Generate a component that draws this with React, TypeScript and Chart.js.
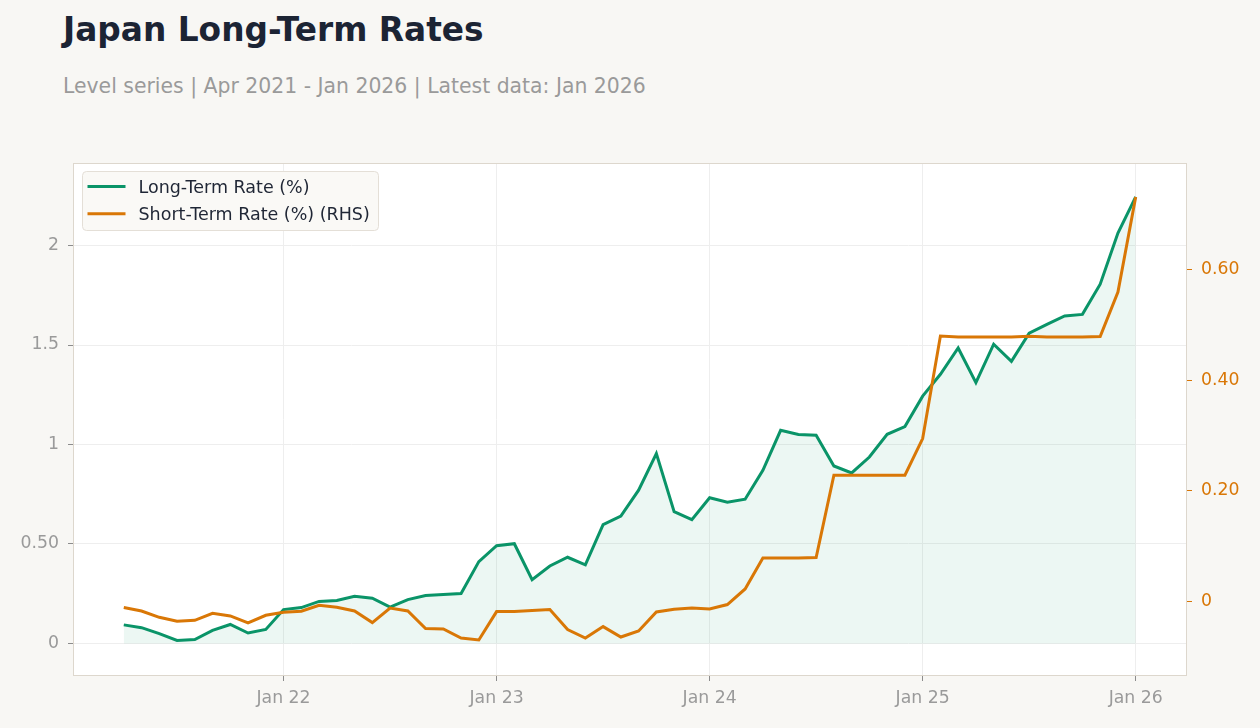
import React, { useEffect, useRef } from "react";
import { Chart, registerables } from "chart.js";

Chart.register(...registerables);

const FONT = "'DejaVu Sans', 'Liberation Sans', sans-serif";

const months = [
  "Apr 2021", "May 2021", "Jun 2021", "Jul 2021", "Aug 2021", "Sep 2021", "Oct 2021", "Nov 2021", "Dec 2021",
  "Jan 2022", "Feb 2022", "Mar 2022", "Apr 2022", "May 2022", "Jun 2022", "Jul 2022", "Aug 2022", "Sep 2022",
  "Oct 2022", "Nov 2022", "Dec 2022",
  "Jan 2023", "Feb 2023", "Mar 2023", "Apr 2023", "May 2023", "Jun 2023", "Jul 2023", "Aug 2023", "Sep 2023",
  "Oct 2023", "Nov 2023", "Dec 2023",
  "Jan 2024", "Feb 2024", "Mar 2024", "Apr 2024", "May 2024", "Jun 2024", "Jul 2024", "Aug 2024", "Sep 2024",
  "Oct 2024", "Nov 2024", "Dec 2024",
  "Jan 2025", "Feb 2025", "Mar 2025", "Apr 2025", "May 2025", "Jun 2025", "Jul 2025", "Aug 2025", "Sep 2025",
  "Oct 2025", "Nov 2025", "Dec 2025",
  "Jan 2026",
];

const longTermRate = [
  0.093, 0.079, 0.049, 0.015, 0.019, 0.065, 0.095, 0.052, 0.070,
  0.170, 0.180, 0.211, 0.216, 0.237, 0.227, 0.182, 0.220, 0.241, 0.246, 0.251, 0.411,
  0.491, 0.501, 0.320, 0.389, 0.433, 0.395, 0.597, 0.640, 0.770, 0.954, 0.662, 0.622,
  0.732, 0.710, 0.725, 0.870, 1.071, 1.050, 1.046, 0.892, 0.857, 0.937, 1.051, 1.090,
  1.243, 1.353, 1.485, 1.311, 1.504, 1.418, 1.559, 1.604, 1.646, 1.654, 1.806, 2.063,
  2.245,
];

const shortTermRate = [
  -0.0108, -0.0170, -0.0284, -0.0356, -0.0338, -0.0211, -0.0260, -0.0387, -0.0248,
  -0.0193, -0.0175, -0.0067, -0.0103, -0.0170, -0.0380, -0.0116, -0.0170, -0.0488, -0.0495, -0.0658, -0.0694,
  -0.0181, -0.0181, -0.0163, -0.0145, -0.0506, -0.0658, -0.0452, -0.0640, -0.0531, -0.0188, -0.0139, -0.0116,
  -0.0134, -0.0054, 0.0228, 0.0788, 0.0788, 0.0788, 0.0795, 0.2283, 0.2283, 0.2283, 0.2283, 0.2283,
  0.2946, 0.4800, 0.4782, 0.4782, 0.4782, 0.4782, 0.4795, 0.4782, 0.4782, 0.4782, 0.4790, 0.5595,
  0.7312,
];

const xTickPositions = [9, 21, 33, 45, 57];
const xTickLabels = ["Jan 22", "Jan 23", "Jan 24", "Jan 25", "Jan 26"];
const leftTickValues = [0, 0.5, 1, 1.5, 2];
const leftTickLabels = ["0", "0.50", "1", "1.5", "2"];
const rightTickValues = [0, 0.2, 0.4, 0.6];
const rightTickLabels = ["0", "0.20", "0.40", "0.60"];

const seriesNames = ["Long-Term Rate (%)", "Short-Term Rate (%) (RHS)"];

const GREEN = "#0a9468";
const ORANGE = "#d97706";
const PAGE_BG = "#f8f7f4";
const TICK_SIZE = 17.3;
const LEGEND_SIZE = 17.5;

const plotDecor = {
  id: "plotDecor",
  beforeDraw(chart: any) {
    const { ctx, chartArea: a } = chart;
    ctx.save();
    ctx.fillStyle = "#ffffff";
    ctx.fillRect(a.left, a.top, a.right - a.left, a.bottom - a.top);
    ctx.restore();
  },
  afterDraw(chart: any) {
    const { ctx, chartArea: a } = chart;
    ctx.save();
    // plot frame
    ctx.strokeStyle = "#ddd7cd";
    ctx.lineWidth = 1;
    ctx.strokeRect(a.left + 0.5, a.top + 0.5, a.right - a.left - 1, a.bottom - a.top - 1);

    // legend box
    const bx = a.left + 9.5;
    const by = a.top + 8.5;
    const bw = 296;
    const bh = 59;
    ctx.beginPath();
    (ctx as any).roundRect(bx, by, bw, bh, 4);
    ctx.fillStyle = "rgba(250,249,246,0.95)";
    ctx.fill();
    ctx.strokeStyle = "#e4dfd7";
    ctx.stroke();

    const ds = chart.data.datasets;
    const rows = [0, 1];
    rows.forEach((r) => {
      const y = by + 15 + r * 27.3;
      ctx.beginPath();
      ctx.moveTo(bx + 5, y);
      ctx.lineTo(bx + 43, y);
      ctx.strokeStyle = ds[r].borderColor;
      ctx.lineWidth = 3;
      ctx.stroke();
      ctx.fillStyle = "#1f2635";
      ctx.font = `${LEGEND_SIZE}px ${FONT}`;
      ctx.textBaseline = "middle";
      ctx.textAlign = "left";
      ctx.fillText(ds[r].label, bx + 56, y + 1.5);
    });
    ctx.restore();
  },
};

export default function App() {
  const canvasRef = useRef<HTMLCanvasElement | null>(null);

  useEffect(() => {
    document.body.style.margin = "0";
    document.body.style.background = PAGE_BG;
    const canvas = canvasRef.current;
    if (!canvas) return;

    const chart = new Chart(canvas, {
      type: "line",
      data: {
        labels: months,
        datasets: [
          {
            label: seriesNames[0],
            data: longTermRate.map((v, i) => ({ x: i, y: v })),
            borderColor: GREEN,
            backgroundColor: "rgba(10,148,104,0.08)",
            borderWidth: 3,
            pointRadius: 0,
            tension: 0,
            fill: "origin",
            yAxisID: "y",
            order: 2,
          },
          {
            label: seriesNames[1],
            data: shortTermRate.map((v, i) => ({ x: i, y: v })),
            borderColor: ORANGE,
            backgroundColor: ORANGE,
            borderWidth: 3,
            pointRadius: 0,
            tension: 0,
            fill: false,
            yAxisID: "y1",
            order: 1,
          },
        ],
      },
      options: {
        animation: false,
        responsive: true,
        maintainAspectRatio: false,
        events: [],
        layout: { padding: { top: 163, left: 0, right: 0, bottom: 0 } },
        plugins: {
          legend: { display: false },
          tooltip: { enabled: false },
          title: { display: false },
        },
        scales: {
          x: {
            type: "linear",
            min: -2.86,
            max: 59.89,
            afterBuildTicks: (scale: any) => {
              scale.ticks = xTickPositions.map((v) => ({ value: v }));
            },
            afterFit: (scale: any) => {
              scale.height = 52;
            },
            ticks: {
              autoSkip: false,
              maxRotation: 0,
              padding: 7.5,
              color: "#9a9a9a",
              font: { family: FONT, size: TICK_SIZE },
              callback: (value: any) => {
                const idx = xTickPositions.indexOf(Number(value));
                return idx >= 0 ? xTickLabels[idx] : "";
              },
            },
            grid: {
              color: "#eeeeee",
              lineWidth: 1,
              tickLength: 5,
              tickColor: "#8c8c8c",
            },
            border: { display: false },
          },
          y: {
            type: "linear",
            position: "left",
            min: -0.164,
            max: 2.415,
            afterBuildTicks: (scale: any) => {
              scale.ticks = leftTickValues.map((v) => ({ value: v }));
            },
            afterFit: (scale: any) => {
              scale.width = 73;
            },
            ticks: {
              padding: 9,
              color: "#9a9a9a",
              font: { family: FONT, size: TICK_SIZE },
              callback: (value: any) => {
                const idx = leftTickValues.indexOf(Number(value));
                return idx >= 0 ? leftTickLabels[idx] : "";
              },
            },
            grid: {
              color: "#eeeeee",
              lineWidth: 1,
              tickLength: 5,
              tickColor: "#8c8c8c",
            },
            border: { display: false },
          },
          y1: {
            type: "linear",
            position: "right",
            min: -0.1345,
            max: 0.7927,
            afterBuildTicks: (scale: any) => {
              scale.ticks = rightTickValues.map((v) => ({ value: v }));
            },
            afterFit: (scale: any) => {
              scale.width = 73;
            },
            ticks: {
              padding: 9,
              color: ORANGE,
              font: { family: FONT, size: TICK_SIZE },
              callback: (value: any) => {
                const idx = rightTickValues.findIndex((t) => Math.abs(t - Number(value)) < 1e-9);
                return idx >= 0 ? rightTickLabels[idx] : "";
              },
            },
            grid: {
              drawOnChartArea: false,
              tickLength: 5,
              tickColor: ORANGE,
            },
            border: { display: false },
          },
        },
      },
      plugins: [plotDecor],
    });

    return () => chart.destroy();
  }, []);

  return (
    <div
      style={{
        position: "relative",
        width: 1260,
        height: 728,
        background: PAGE_BG,
        overflow: "hidden",
      }}
    >
      <div
        style={{
          position: "absolute",
          left: 63,
          top: 14,
          fontFamily: FONT,
          fontWeight: "bold",
          fontSize: 32.8,
          lineHeight: "33px",
          color: "#1c2434",
          whiteSpace: "nowrap",
        }}
      >
        Japan Long-Term Rates
      </div>
      <div
        style={{
          position: "absolute",
          left: 63,
          top: 76,
          fontFamily: FONT,
          fontSize: 20.4,
          lineHeight: "20px",
          color: "#9a9a9a",
          whiteSpace: "nowrap",
        }}
      >
        Level series | Apr 2021 - Jan 2026 | Latest data: Jan 2026
      </div>
      <div style={{ position: "absolute", left: 0, top: 0, width: 1260, height: 728 }}>
        <canvas ref={canvasRef} />
      </div>
    </div>
  );
}
